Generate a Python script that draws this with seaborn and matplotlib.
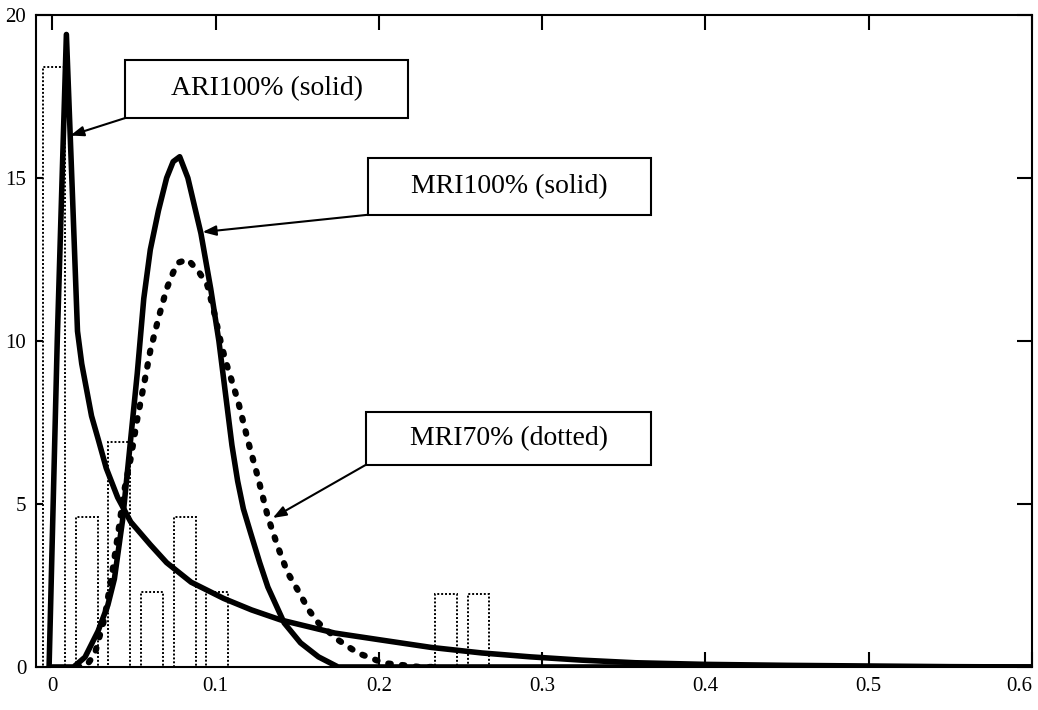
import numpy as np
import pandas as pd
import matplotlib
matplotlib.use('Agg')
import matplotlib.pyplot as plt
from matplotlib.patches import Rectangle
import seaborn as sns

# histogram bars (bin centre, density)
bin_centers = [0.001, 0.021, 0.041, 0.061, 0.081, 0.101, 0.241, 0.261]
bin_heights = [18.4, 4.6, 6.9, 2.3, 4.6, 2.3, 2.25, 2.25]

# ARI100% density (solid)
ari_x = [-0.002, 0.003, 0.0086, 0.0123, 0.0154, 0.018, 0.021, 0.024, 0.028, 0.033,
         0.040, 0.048, 0.060, 0.070, 0.085, 0.105, 0.122, 0.140, 0.173, 0.201,
         0.232, 0.263, 0.293, 0.324, 0.357, 0.40, 0.45, 0.50, 0.55, 0.60]
ari_y = [0, 10.0, 19.4, 14.5, 10.3, 9.3, 8.5, 7.7, 7.0, 6.1,
         5.2, 4.45, 3.75, 3.2, 2.6, 2.1, 1.75, 1.44, 1.04, 0.83,
         0.6, 0.43, 0.31, 0.21, 0.13, 0.08, 0.05, 0.03, 0.01, 0.0]

# MRI100% density (solid)
mri100_x = [0.0, 0.013, 0.020, 0.028, 0.034, 0.038, 0.043, 0.048, 0.052, 0.056,
            0.060, 0.065, 0.070, 0.074, 0.078, 0.083, 0.091, 0.097, 0.102, 0.107,
            0.110, 0.1135, 0.117, 0.1215, 0.127, 0.132, 0.142, 0.152, 0.163, 0.175,
            0.60]
mri100_y = [0, 0, 0.3, 1.1, 1.9, 2.7, 4.5, 7.0, 9.0, 11.3,
            12.8, 14.0, 15.0, 15.5, 15.65, 15.0, 13.3, 11.6, 10.0, 8.0,
            6.8, 5.7, 4.85, 4.1, 3.2, 2.45, 1.35, 0.74, 0.31, 0,
            0]

# MRI70% density (dotted)
mri70_x = [0.015, 0.021, 0.026, 0.032, 0.037, 0.040, 0.044, 0.048, 0.052, 0.057,
           0.060, 0.065, 0.070, 0.074, 0.077, 0.083, 0.090, 0.095, 0.099, 0.103,
           0.106, 0.111, 0.114, 0.120, 0.126, 0.132, 0.138, 0.144, 0.151, 0.157,
           0.163, 0.175, 0.187, 0.203, 0.225, 0.235]
mri70_y = [0, 0.05, 0.4, 1.5, 3.0, 4.0, 5.4, 6.4, 7.6, 8.9,
           9.7, 10.7, 11.6, 12.1, 12.4, 12.5, 12.1, 11.7, 10.9, 10.0,
           9.4, 8.6, 8.1, 6.9, 5.8, 4.6, 3.7, 2.9, 2.3, 1.75,
           1.35, 0.83, 0.43, 0.12, 0.0, 0.0]

xticks = [0, 0.1, 0.2, 0.3, 0.4, 0.5, 0.6]
xticklabels = ['0', '0.1', '0.2', '0.3', '0.4', '0.5', '0.6']
yticks = [0, 5, 10, 15, 20]

sns.set_style('ticks')
plt.rcParams['font.family'] = ['Liberation Serif', 'DejaVu Serif']
plt.rcParams['text.color'] = 'black'

fig = plt.figure(figsize=(10.38, 7.10), dpi=100)
ax = fig.add_axes([0.0347, 0.0606, 0.9595, 0.9184])

hist_df = pd.DataFrame({'x': bin_centers, 'h': bin_heights})
sns.histplot(data=hist_df, x='x', weights='h', binwidth=0.02, binrange=(-0.009, 0.271),
             shrink=0.67, fill=True, color='white', edgecolor='black',
             linewidth=1.4, linestyle=(0, (1, 1)), alpha=1, ax=ax)

sns.lineplot(x=ari_x, y=ari_y, color='black', lw=4, estimator=None, sort=False, ax=ax)
sns.lineplot(x=mri100_x, y=mri100_y, color='black', lw=4, estimator=None, sort=False, ax=ax)
line = sns.lineplot(x=mri70_x, y=mri70_y, color='black', lw=4.5, estimator=None,
                    sort=False, ax=ax).lines[-1]
line.set_dashes((0.4, 1.8))
line.set_dash_capstyle('round')

# text boxes with arrows
boxes = [
    ('ARI100% (solid)', (0.0448, 16.84), 0.173, 1.78, (0.0448, 16.84), (0.011, 16.3)),
    ('MRI100% (solid)', (0.1933, 13.87), 0.1736, 1.74, (0.1933, 13.87), (0.092, 13.34)),
    ('MRI70% (dotted)', (0.192, 6.20), 0.1749, 1.62, (0.192, 6.20), (0.135, 4.57)),
]
for label, xy, w, h, start, tip in boxes:
    ax.add_patch(Rectangle(xy, w, h, facecolor='white', edgecolor='black', lw=1.5, zorder=5))
    ax.text(xy[0] + w / 2, xy[1] + h / 2, label, ha='center', va='center',
            fontsize=20, color='black', zorder=6)
    ax.annotate('', xy=tip, xytext=start, zorder=6,
                arrowprops=dict(arrowstyle='-|>,head_length=0.8,head_width=0.3',
                                color='black', lw=1.5, shrinkA=0, shrinkB=0))

ax.set_xlim(-0.01, 0.6)
ax.set_ylim(0, 20)
ax.set_xticks(xticks)
ax.set_xticklabels(xticklabels)
ax.set_yticks(yticks)
ax.set_xlabel('')
ax.set_ylabel('')
ax.tick_params(direction='in', length=11, width=1.5, top=True, right=True,
               labelsize=15, pad=7, colors='black')
ax.get_xticklabels()[-1].set_horizontalalignment('right')
for s in ax.spines.values():
    s.set_linewidth(1.5)
    s.set_color('black')

fig.savefig('out.png', dpi=100)
